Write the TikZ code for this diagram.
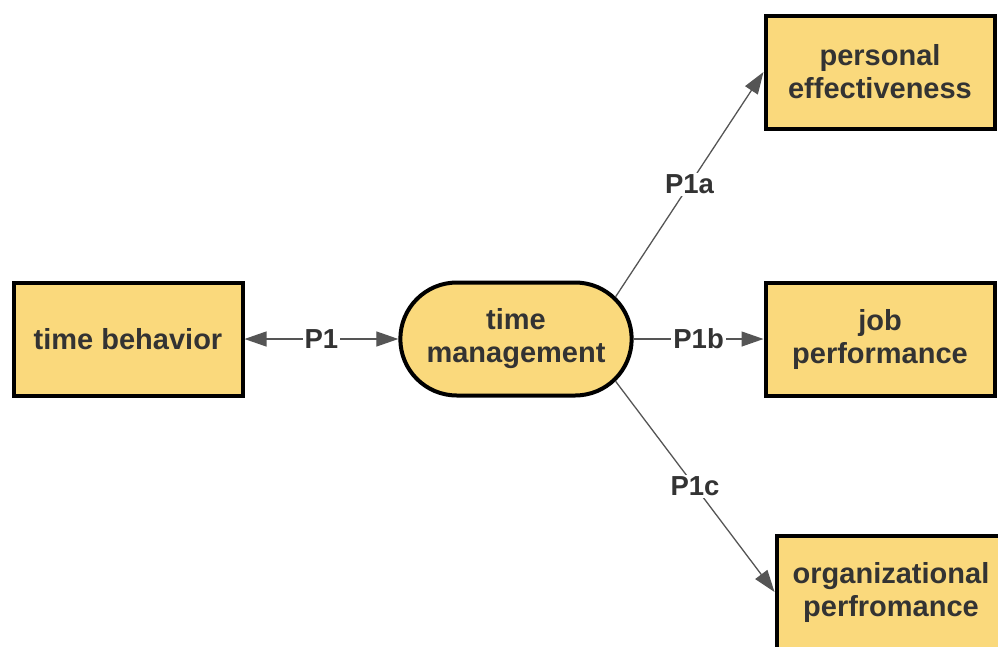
\documentclass[tikz,border=0pt]{standalone}
\usepackage{fontspec}
\setmainfont{Liberation Sans}
\usetikzlibrary{shapes.misc,arrows.meta}
\definecolor{boxfill}{RGB}{250,217,124}
\definecolor{textgray}{RGB}{51,51,51}
\definecolor{arrowgray}{RGB}{85,85,85}

\begin{document}
\begin{tikzpicture}[x=1pt, y=-1pt,
		>={Triangle[length=22pt, width=15pt]},
		box/.style={fill=boxfill, rectangle, draw, line width=4pt, minimum width=229pt, minimum height=113pt, align=center, text=textgray, font=\fontsize{29}{33}\selectfont\bfseries},
		pill/.style={box, rounded rectangle, minimum width=238pt},
		link/.style={draw=arrowgray, line width=1.3pt, ->},
		tag/.style={fill=white, inner sep=2pt, text=textgray, font=\fontsize{27.5}{30}\selectfont\bfseries}]
		\useasboundingbox (0,0) rectangle (998,646);
		\node[box](behavior) at (128,339) {time behavior};
		\node[pill](management) at (516,339) {time\\management};
		\node[box](personal) at (880,72) {personal\\effectiveness};
		\node[box](job) at (880,339) {job\\performance};
		\node[box](organizational) at (891,592) {organizational\\perfromance};
		\draw[link, <->] (behavior.east) -- node[tag]{P1} (management.west);
		\draw[link] (management.23) -- node[tag]{P1a} (personal.west);
		\draw[link] (management.east) -- node[tag]{P1b} (job.west);
		\draw[link] (management.-23) -- node[tag]{P1c} (organizational.west);
	\end{tikzpicture}
\end{document}
